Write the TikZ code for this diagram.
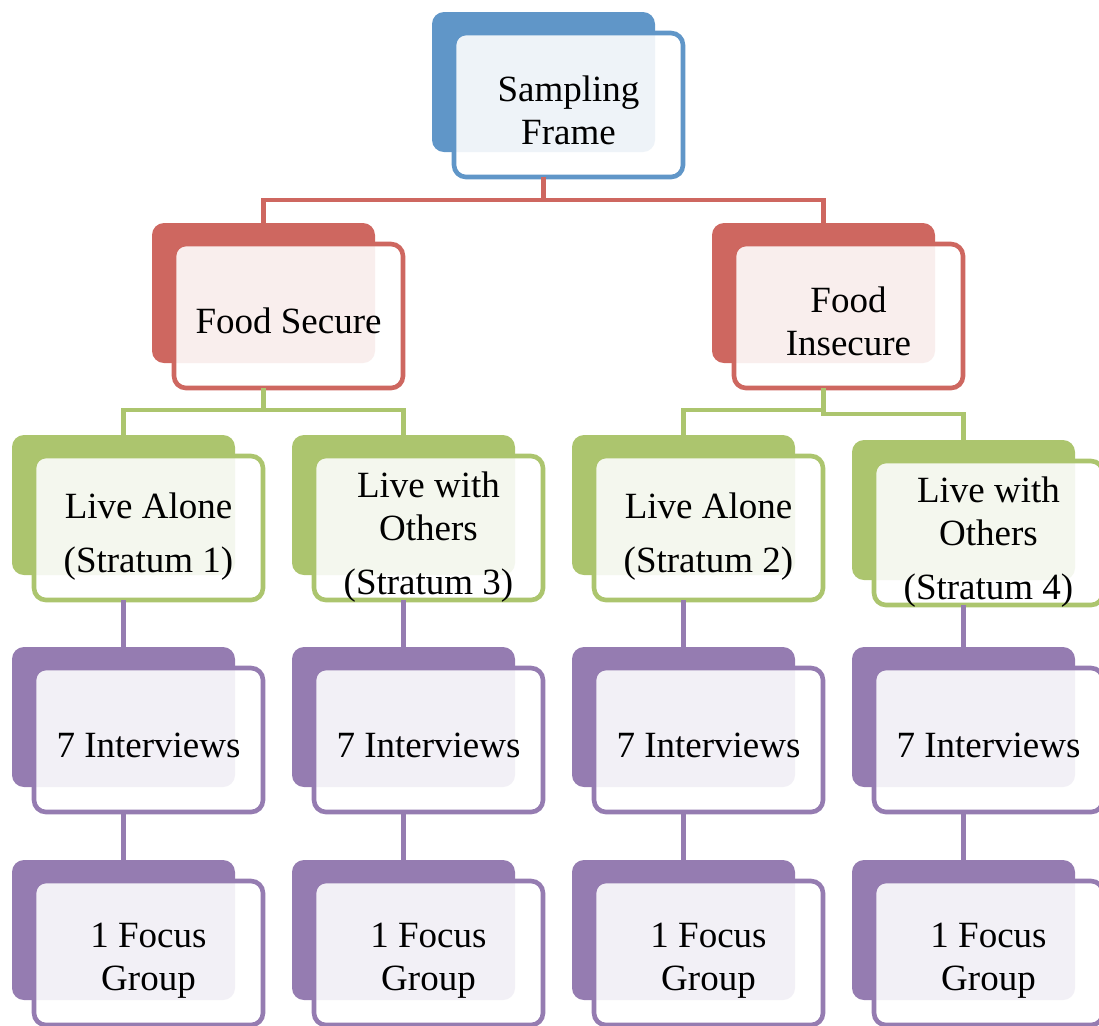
\documentclass[tikz,border=0pt]{standalone}
\usepackage{fontspec}
\setmainfont{Liberation Serif}
\usetikzlibrary{positioning}

\definecolor{sfblue}{RGB}{96,150,200}
\definecolor{sftint}{RGB}{238,243,248}
\definecolor{fsred}{RGB}{206,103,96}
\definecolor{fstint}{RGB}{249,238,237}
\definecolor{stgreen}{RGB}{172,197,110}
\definecolor{sttint}{RGB}{244,247,238}
\definecolor{ivpurple}{RGB}{149,124,177}
\definecolor{ivtint}{RGB}{242,240,246}

\tikzset{
  backbox/.style={rectangle, rounded corners=6pt, anchor=north west,
    minimum width=111.5pt, minimum height=70pt, inner sep=0pt, outer sep=0pt},
  frontbox/.style={rectangle, rounded corners=6pt, anchor=north west, fill=white,
    minimum width=114.5pt, minimum height=72pt, inner sep=0pt, outer sep=0pt},
  boxtext/.style={align=center, inner sep=0pt, yshift=-2.5pt,
    font=\fontsize{18.5}{21.5}\selectfont},
  link/.style={line width=2.3pt},
}

% [extra drop of the text] name, x, y (top left of the back card), colour, tint, text
\newcommand{\tierbox}[7][0pt]{%
  \node[backbox, fill=#5] (#2) at (#3,#4) {};
  \node[frontbox] (#2f) at ([shift={(22,21)}]#2.north west) {};
  \begin{scope}
    \clip[rounded corners=6pt] (#2.south west) rectangle (#2.north east);
    \fill[#6, rounded corners=6pt] (#2f.south west) rectangle (#2f.north east);
  \end{scope}
  \draw[#5, line width=2.3pt, rounded corners=6pt] (#2f.south west) rectangle (#2f.north east);
  \node[boxtext, yshift=-#1] (#2t) at (#2f.center) {#7};
}

\begin{document}
\begin{tikzpicture}[x=0.5pt, y=-0.5pt]
  \useasboundingbox (0,0) rectangle (1099,1025);
  \tierbox{sf}{432}{12}{sfblue}{sftint}{Sampling\\Frame}
  \tierbox{fs}{152}{223}{fsred}{fstint}{Food Secure}
  \tierbox{fi}{712}{223}{fsred}{fstint}{Food\\Insecure}
  \tierbox[2pt]{st1}{12}{435}{stgreen}{sttint}{Live Alone\\[5.5pt](Stratum 1)}
  \tierbox[2pt]{st2}{292}{435}{stgreen}{sttint}{Live with\\Others\\[5.5pt](Stratum 3)}
  \tierbox[2pt]{st3}{572}{435}{stgreen}{sttint}{Live Alone\\[5.5pt](Stratum 2)}
  \tierbox[2pt]{st4}{852}{440}{stgreen}{sttint}{Live with\\Others\\[5.5pt](Stratum 4)}
  \foreach \col/\x in {1/12, 2/292, 3/572, 4/852}{
    \tierbox{iv\col}{\x}{647}{ivpurple}{ivtint}{7 Interviews}
    \tierbox[1.5pt]{fg\col}{\x}{860}{ivpurple}{ivtint}{1 Focus\\Group}
  }
  % links
  \draw[link, fsred] (sf.south |- sff.south) -- ++(0,23);
  \draw[link, fsred] (fs.north) -- ++(0,-23) -| (fi.north);
  \draw[link, stgreen] (fs.south |- fsf.south) -- ++(0,22);
  \draw[link, stgreen] (st1.north) -- ++(0,-25) -| (st2.north);
  \draw[link, stgreen] (st3.north) -- ++(0,-25) -| (fi.south |- fif.south);
  \draw[link, stgreen] (fi.south |- fif.south) -- ++(0,26) -| (st4.north);
  \foreach \col in {1,...,4}{
    \draw[link, ivpurple] (st\col.south |- st\col f.south) -- (iv\col.north);
    \draw[link, ivpurple] (iv\col.south |- iv\col f.south) -- (fg\col.north);
  }
\end{tikzpicture}
\end{document}
